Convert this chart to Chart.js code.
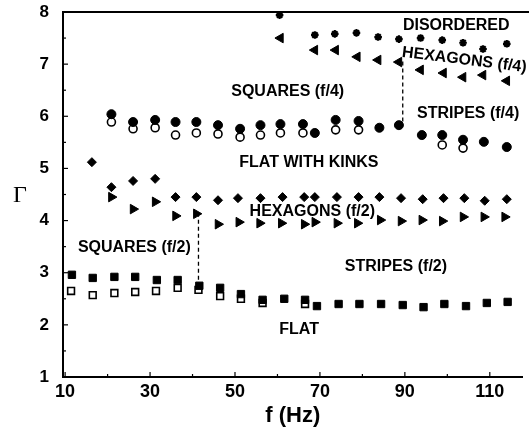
<!DOCTYPE html>
<html>
<head>
<meta charset="utf-8">
<script src="https://cdn.jsdelivr.net/npm/chart.js@4.4.1/dist/chart.umd.min.js"></script>
<style>
  html, body { margin: 0; padding: 0; background: #fff; }
  #wrap { width: 529px; height: 430px; }
</style>
</head>
<body>
<div id="wrap"><canvas id="phase-chart"></canvas></div>
<script>
// frequency (Hz) and Gamma for every branch
const flatSolidF = [11.6, 16.5, 21.6, 26.5, 31.6, 36.5, 41.6, 46.5, 51.4, 56.5, 61.6, 66.5, 69.3, 74.4, 79.3, 84.4, 89.5, 94.4, 99.3, 104.4, 109.3, 114.2];
const flatSolidG = [2.96, 2.90, 2.92, 2.92, 2.86, 2.86, 2.75, 2.71, 2.59, 2.48, 2.50, 2.48, 2.36, 2.40, 2.40, 2.40, 2.38, 2.34, 2.40, 2.36, 2.42, 2.44];

const flatOpenF = [11.4, 16.5, 21.6, 26.5, 31.4, 36.5, 41.4, 46.5, 51.4, 56.5, 66.5];
const flatOpenG = [2.65, 2.57, 2.61, 2.63, 2.65, 2.71, 2.67, 2.55, 2.50, 2.42, 2.40];

const quarterSolidF = [20.9, 26.0, 31.2, 36.0, 40.9, 46.0, 51.2, 56.0, 60.7, 66.0, 68.8, 73.7, 79.1, 84.0, 88.6, 94.0, 98.8, 103.7, 108.6, 114.0];
const quarterSolidG = [6.04, 5.89, 5.93, 5.89, 5.89, 5.83, 5.76, 5.83, 5.85, 5.85, 5.68, 5.93, 5.91, 5.78, 5.83, 5.64, 5.64, 5.55, 5.51, 5.41];

const quarterOpenF = [20.9, 26.0, 31.2, 36.0, 40.9, 46.0, 51.2, 56.0, 60.7, 66.0, 73.7, 79.1, 98.8, 103.7];
const quarterOpenG = [5.89, 5.76, 5.78, 5.64, 5.68, 5.66, 5.60, 5.64, 5.68, 5.68, 5.74, 5.74, 5.45, 5.39];

const kinkF = [16.3, 20.9, 26.0, 31.2, 36.0, 40.9, 46.0, 50.7, 56.0, 61.2, 66.3, 68.8, 74.0, 79.1, 84.0, 89.1, 94.2, 99.1, 104.0, 108.8, 114.0];
const kinkG = [5.12, 4.64, 4.76, 4.80, 4.45, 4.45, 4.39, 4.43, 4.43, 4.45, 4.45, 4.45, 4.45, 4.45, 4.45, 4.43, 4.41, 4.43, 4.43, 4.38, 4.41];

const hexHalfF = [20.9, 26.0, 31.2, 36.0, 40.9, 46.0, 50.9, 55.8, 60.9, 66.3, 68.8, 74.0, 78.8, 84.2, 89.1, 94.0, 98.8, 103.7, 108.6, 113.5];
const hexHalfG = [4.45, 4.22, 4.36, 4.09, 4.13, 3.93, 3.97, 3.95, 3.95, 3.93, 3.97, 3.95, 3.95, 4.01, 3.99, 4.01, 3.99, 4.07, 4.07, 4.07];

const hexQuarterF = [60.7, 68.8, 73.7, 78.8, 83.7, 88.6, 93.7, 99.1, 103.7, 108.4, 114.0];
const hexQuarterG = [7.50, 7.27, 7.27, 7.14, 7.08, 7.04, 6.89, 6.83, 6.75, 6.79, 6.68];

const disorderF = [60.5, 68.8, 73.5, 78.6, 83.7, 88.6, 93.7, 98.8, 103.7, 108.4, 114.0];
const disorderG = [7.94, 7.56, 7.58, 7.60, 7.52, 7.48, 7.50, 7.46, 7.41, 7.29, 7.39];

// dashed phase boundaries
const boundaryLowF = [41.4, 41.4];
const boundaryLowG = [4.15, 2.80];
const boundaryHighF = [89.5, 89.5];
const boundaryHighG = [7.05, 5.88];

const xTicks = [10, 20, 30, 40, 50, 60, 70, 80, 90, 100, 110];
const xLabels = [10, 30, 50, 70, 90, 110];
const yTicks = [1, 2, 3, 4, 5, 6, 7, 8];

const regionNames = ['DISORDERED', 'HEXAGONS (f/4)', 'SQUARES (f/4)', 'STRIPES (f/4)', 'FLAT WITH KINKS',
                     'HEXAGONS (f/2)', 'SQUARES (f/2)', 'STRIPES (f/2)', 'FLAT'];
const regionF = [102.1, 104.0, 62.4, 104.9, 67.4, 68.2, 26.3, 87.9, 65.1];
const regionG = [7.73, 7.08, 6.47, 6.06, 5.12, 4.18, 3.49, 3.11, 1.90];
const regionTilt = [0, 7, 0, 0, 0, 0, 0, 0, 0];

const FONT = '"Liberation Sans", Arial, Helvetica, sans-serif';

function pairs(fs, gs) {
    return fs.map((f, i) => ({ x: f, y: gs[i] }));
}

function markers(fs, gs, style, radius, filled, rotation) {
    return {
        data: pairs(fs, gs),
        pointStyle: style,
        pointRadius: radius,
        rotation: rotation || 0,
        backgroundColor: filled ? '#000' : '#fff',
        borderColor: '#000',
        borderWidth: filled ? 1 : 1.6,
        showLine: false,
        clip: false
    };
}

function boundary(fs, gs) {
    return {
        data: pairs(fs, gs),
        showLine: true,
        borderColor: '#000',
        borderWidth: 1.3,
        borderDash: [4, 3],
        pointRadius: 0,
        clip: false
    };
}

const decorations = {
    id: 'decorations',
    afterDraw(chart) {
        const ctx = chart.ctx;
        const area = chart.chartArea;
        const xs = chart.scales.x;
        const ys = chart.scales.y;
        ctx.save();
        ctx.strokeStyle = '#000';

        // top frame line
        ctx.lineWidth = 2;
        ctx.beginPath();
        ctx.moveTo(area.left, area.top);
        ctx.lineTo(chart.width, area.top);
        ctx.stroke();

        // inward tick marks
        ctx.lineWidth = 1.2;
        xTicks.forEach(v => {
            const px = xs.getPixelForValue(v);
            const len = xLabels.includes(v) ? 5 : 3;
            ctx.beginPath();
            ctx.moveTo(px, area.bottom);
            ctx.lineTo(px, area.bottom - len);
            ctx.stroke();
        });
        for (let v = 1.5; v < 8; v += 0.5) {
            const py = ys.getPixelForValue(v);
            const len = Number.isInteger(v) ? 5 : 3;
            ctx.beginPath();
            ctx.moveTo(area.left, py);
            ctx.lineTo(area.left + len, py);
            ctx.stroke();
        }

        // Gamma axis label, upright
        ctx.fillStyle = '#000';
        ctx.font = '24px "Liberation Serif", "DejaVu Serif", serif';
        ctx.textAlign = 'center';
        ctx.textBaseline = 'middle';
        ctx.fillText('Γ', 20, 196);

        // phase region names
        ctx.font = 'bold 16px ' + FONT;
        regionNames.forEach((name, i) => {
            ctx.save();
            ctx.translate(xs.getPixelForValue(regionF[i]), ys.getPixelForValue(regionG[i]));
            ctx.rotate(regionTilt[i] * Math.PI / 180);
            ctx.fillText(name, 0, 0);
            ctx.restore();
        });
        ctx.restore();
    }
};

const ctx = document.getElementById('phase-chart').getContext('2d');

new Chart(ctx, {
    type: 'scatter',
    data: {
        datasets: [
            markers(flatSolidF, flatSolidG, 'rect', 5.2, true),
            markers(flatOpenF, flatOpenG, 'rect', 4.8, false),
            markers(quarterSolidF, quarterSolidG, 'circle', 4.5, true),
            markers(quarterOpenF, quarterOpenG, 'circle', 4.0, false),
            markers(kinkF, kinkG, 'rectRot', 4.5, true),
            markers(hexHalfF, hexHalfG, 'triangle', 5.5, true, 90),
            markers(hexQuarterF, hexQuarterG, 'triangle', 5.5, true, 270),
            { ...markers(disorderF, disorderG, 'star', 3.8, true), borderWidth: 2.2 },
            boundary(boundaryLowF, boundaryLowG),
            boundary(boundaryHighF, boundaryHighG)
        ]
    },
    options: {
        responsive: true,
        maintainAspectRatio: false,
        animation: false,
        layout: {
            padding: { top: 12, right: 1, left: 0, bottom: 0 }
        },
        plugins: {
            legend: { display: false },
            tooltip: { enabled: false }
        },
        scales: {
            x: {
                type: 'linear',
                min: 9.5,
                max: 117.7,
                afterBuildTicks: scale => { scale.ticks = xTicks.map(v => ({ value: v })); },
                afterFit: scale => {
                    scale.height = 53;
                    scale.paddingLeft = 0;
                    scale.paddingRight = 0;
                },
                ticks: {
                    callback: v => xLabels.includes(v) ? String(v) : '',
                    color: '#000',
                    font: { family: FONT, size: 18, weight: 'bold' },
                    padding: 4,
                    maxRotation: 0,
                    autoSkip: false
                },
                grid: { display: false, drawTicks: false },
                border: { display: true, color: '#000', width: 2 },
                title: {
                    display: true,
                    text: 'f (Hz)',
                    color: '#000',
                    font: { family: FONT, size: 22, weight: 'bold' },
                    padding: { top: 0, bottom: 1 }
                }
            },
            y: {
                type: 'linear',
                min: 1,
                max: 8,
                afterBuildTicks: scale => { scale.ticks = yTicks.map(v => ({ value: v })); },
                afterFit: scale => {
                    scale.width = 63;
                    scale.paddingTop = 0;
                    scale.paddingBottom = 0;
                },
                ticks: {
                    color: '#000',
                    font: { family: FONT, size: 17, weight: 'bold' },
                    padding: 14
                },
                grid: { display: false, drawTicks: false },
                border: { display: true, color: '#000', width: 2 }
            }
        }
    },
    plugins: [decorations]
});
</script>
</body>
</html>
